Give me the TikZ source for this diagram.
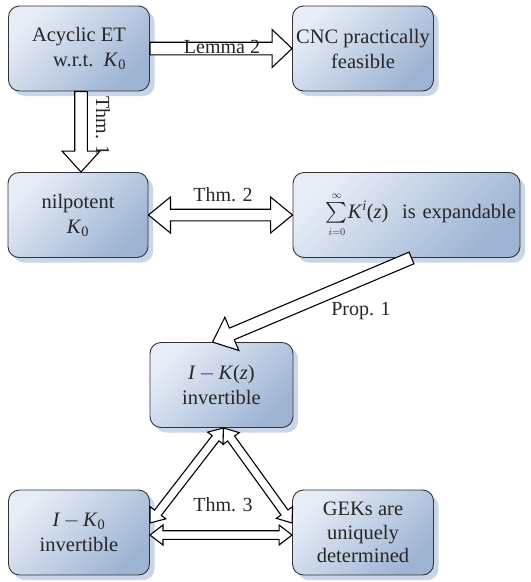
\RequirePackage{fix-cm}
\documentclass[tikz,border=0pt]{standalone}
\usepackage{exscale}
\usepackage{fontspec}
\setmainfont{Liberation Serif}
\usetikzlibrary{calc,shadows}
\definecolor{boxlight}{HTML}{E6EDF7}
\definecolor{boxdark}{HTML}{9DB3D2}
\definecolor{shadowblue}{HTML}{C9D6E9}
\definecolor{inkgray}{HTML}{262626}
\newcommand\blockarr[5]{%
 \coordinate (hbA) at ($(#2)!#5!(#1)$);
 \draw[arrowbox] ($(#1)!#3!90:(#2)$) -- ($(hbA)!#3!90:(#2)$) -- ($(hbA)!#4!90:(#2)$) -- (#2) -- ($(hbA)!#4!-90:(#2)$) -- ($(hbA)!#3!-90:(#2)$) -- ($(#1)!#3!-90:(#2)$) -- cycle;
}
\newcommand\dblarr[5]{%
 \coordinate (hbA) at ($(#1)!#5!(#2)$);
 \coordinate (hbB) at ($(#2)!#5!(#1)$);
 \draw[arrowbox] (#1) -- ($(hbA)!#4!90:(#2)$) -- ($(hbA)!#3!90:(#2)$) -- ($(hbB)!#3!90:(#2)$) -- ($(hbB)!#4!90:(#2)$) -- (#2) -- ($(hbB)!#4!-90:(#2)$) -- ($(hbB)!#3!-90:(#2)$) -- ($(hbA)!#3!-90:(#2)$) -- ($(hbA)!#4!-90:(#2)$) -- cycle;
}
\begin{document}
\begin{tikzpicture}[x=1pt,y=-1pt,
  box/.style={draw=black!80, line width=0.9pt, rounded corners=11pt,
    top color=boxlight, bottom color=boxdark, shading angle=45,
    drop shadow={shadow xshift=5pt, shadow yshift=-5pt, fill=shadowblue, opacity=1},
    minimum width=141pt, minimum height=85pt, align=center, inner sep=2pt,
    text=inkgray, font=\fontsize{20.5}{25}\selectfont},
  arrowbox/.style={draw=black, fill=white, line width=1.1pt, line join=miter},
  lbl/.style={text=inkgray, font=\fontsize{20}{24}\selectfont, inner sep=0pt}]
\useasboundingbox (0,0) rectangle (531,582);
% boxes
\node[box, align=right] (A) at (79,48.5) {Acyclic ET\\w.r.t.~~\textit{K}\textsubscript{0}};
\node[box] (B) at (363,48.5) {CNC practically\\feasible};
\node[box, minimum width=140pt] (C) at (78,215) {nilpotent\\\textit{K}\textsubscript{0}};
\node[box, minimum width=227pt, text width=219pt, align=right] (D) at (406.5,215) {$\sum\limits_{\scriptscriptstyle i=0}^{\scriptscriptstyle\infty}$\textit{K}\textsuperscript{\textit{i}}(\textit{z})~~is expandable};
\node[box, minimum width=143pt] (E) at (221.5,385) {\textit{I}\,$-$\,\textit{K}(\textit{z})\\invertible};
\node[box] (F) at (79,532.5) {\textit{I}\,$-$\,\textit{K}\textsubscript{0}\\invertible};
\node[box, font=\fontsize{20.5}{23.5}\selectfont] (G) at (363,532.5) {GEKs are\\uniquely\\determined};
% connector end points
\coordinate (t1e) at ([xshift=2pt]A.south |- C.north);
\coordinate (t1s) at ([xshift=2pt]A.south);
\coordinate (p1s) at ([xshift=5pt]D.south);
\coordinate (p1e) at ([xshift=-9pt]E.north);
\coordinate (apex) at ([xshift=2pt]E.south);
\coordinate (fT) at ([yshift=9.5pt]F.east);
\coordinate (gT) at ([yshift=9.5pt]G.west);
\coordinate (fH) at ([yshift=-2.5pt]F.east);
\coordinate (gH) at ([yshift=-2.5pt]G.west);
% arrows
\blockarr{A.east}{B.west}{6.3pt}{19pt}{20pt}
\blockarr{t1s}{t1e}{6.3pt}{19pt}{21pt}
\dblarr{C.east}{D.west}{5.8pt}{18pt}{22pt}
\blockarr{p1s}{p1e}{6.3pt}{18pt}{21pt}
\dblarr{apex}{fT}{4.3pt}{10pt}{13pt}
\dblarr{apex}{gT}{4.3pt}{10pt}{13pt}
\dblarr{fH}{gH}{4.3pt}{10pt}{13pt}
% labels
\node[lbl] (l1) at (222,47) {Lemma 2};
\node[lbl, rotate=-90] (l2) at (103,126) {Thm. 1};
\node[lbl] (l3) at (223,195) {Thm. 2};
\node[lbl] (l4) at (361,311) {Prop. 1};
\node[lbl] (l5) at (223,505) {Thm. 3};
\end{tikzpicture}
\end{document}
